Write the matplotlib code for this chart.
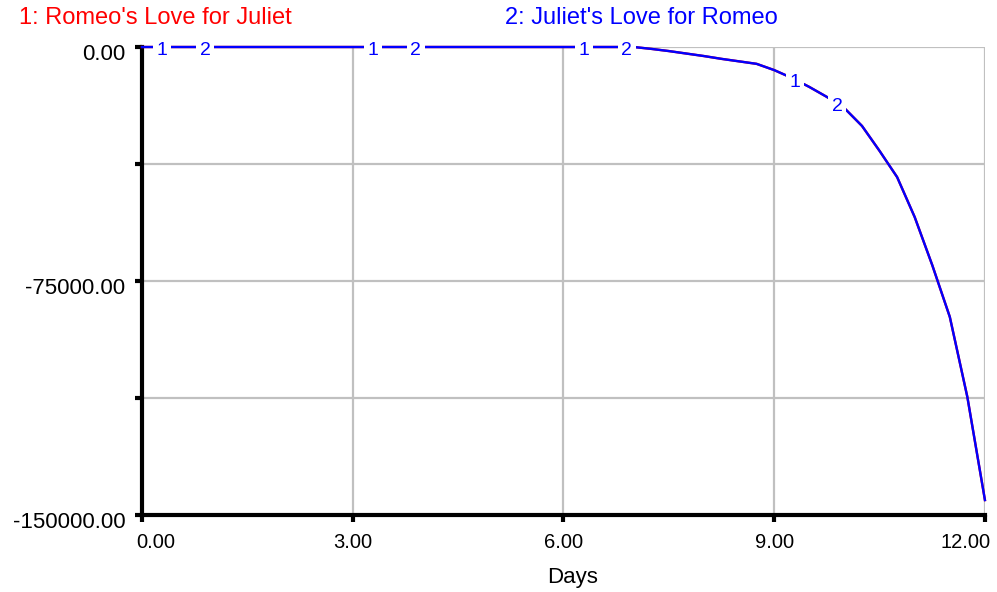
import numpy as np
import matplotlib
matplotlib.use("Agg")
import matplotlib.pyplot as plt
from matplotlib.transforms import ScaledTranslation

plt.rcParams['font.family'] = ['Liberation Sans', 'DejaVu Sans']

# simulation output (days, love level)
days = [0, 1, 2, 3, 4, 5, 6, 7, 7.25, 7.5, 7.75, 8.0, 8.25, 8.5, 8.75,
        9.0, 9.25, 9.5, 9.75, 10.0, 10.25, 10.5, 10.75, 11.0, 11.25,
        11.5, 11.75, 12.0]
romeo = [0, 0, 0, 0, 0, 0, 0, 0, -600, -1300, -2100, -2900, -3800, -4600,
         -5400, -7400, -9900, -12800, -16000, -19600, -25300, -33300,
         -41700, -54500, -69900, -86500, -112200, -145200]
juliet = list(romeo)

series_names = ["1: Romeo's Love for Juliet", "2: Juliet's Love for Romeo"]
x_ticks = [0, 3, 6, 9, 12]
x_ticklabels = ["0.00", "3.00", "6.00", "9.00", "12.00"]
y_ticks = [0, -37500, -75000, -112500, -150000]
y_ticklabels = ["0.00", "", "-75000.00", "", "-150000.00"]

RED = "#ff0000"
BLUE = "#0000ff"

fig = plt.figure(figsize=(9.97, 5.92), dpi=100)
ax = fig.add_axes([0.1424, 0.130, 0.8455, 0.7906])

ax.plot(days, romeo, color=RED, lw=1.7, clip_on=False, zorder=3)
ax.plot(days, juliet, color=BLUE, lw=1.7, clip_on=False, zorder=4)

# Vensim-style numbered markers along the curves
lbl_days_1 = np.arange(4) * 3 + 0.29
lbl_days_2 = lbl_days_1 + 0.61
mdown = ScaledTranslation(0, -3 / 100, fig.dpi_scale_trans)
for num, pos in (("1", lbl_days_1), ("2", lbl_days_2)):
    for d in pos:
        yv = np.interp(d, days, juliet)
        ax.text(d, yv, num, color=BLUE, fontsize=14, ha="center", va="center",
                zorder=5, clip_on=False, transform=ax.transData + mdown,
                bbox=dict(facecolor="white", edgecolor="none", pad=2.5))

ax.set_xlim(0, 12)
ax.set_ylim(-150000, 0)
ax.set_xticks(x_ticks)
ax.set_xticklabels(x_ticklabels, fontsize=14.5)
ax.set_yticks(y_ticks)
ax.set_yticklabels(y_ticklabels, fontsize=16)
ax.grid(True, color="#c0c0c0", lw=1.6)
ax.set_axisbelow(True)

for s in ("top", "right"):
    ax.spines[s].set_visible(False)
for s in ("left", "bottom"):
    ax.spines[s].set_linewidth(3)
    ax.spines[s].set_color("black")
ax.tick_params(axis="both", direction="out", width=3, length=5, color="black")
ax.tick_params(axis="x", pad=8)
ax.tick_params(axis="y", pad=7)

# y labels sit a little below their grid lines
ydown = ScaledTranslation(0, -5 / 100, fig.dpi_scale_trans)
for t in ax.get_yticklabels():
    t.set_transform(t.get_transform() + ydown)
# end x labels are pulled inside the frame
xl = ax.get_xticklabels()
xl[0].set_ha("left")
xl[0].set_transform(xl[0].get_transform() +
                    ScaledTranslation(-6 / 100, 0, fig.dpi_scale_trans))
xl[-1].set_ha("right")
xl[-1].set_transform(xl[-1].get_transform() +
                     ScaledTranslation(6 / 100, 0, fig.dpi_scale_trans))

fig.text(573 / 997, 1 - 577 / 592, "Days", fontsize=16,
         ha="center", va="center")

fig.text(19 / 997, 1 - 18 / 592, series_names[0], color=RED, fontsize=17,
         ha="left", va="center")
fig.text(505 / 997, 1 - 18 / 592, series_names[1], color=BLUE, fontsize=17,
         ha="left", va="center")

fig.savefig("out.png", dpi=100)
